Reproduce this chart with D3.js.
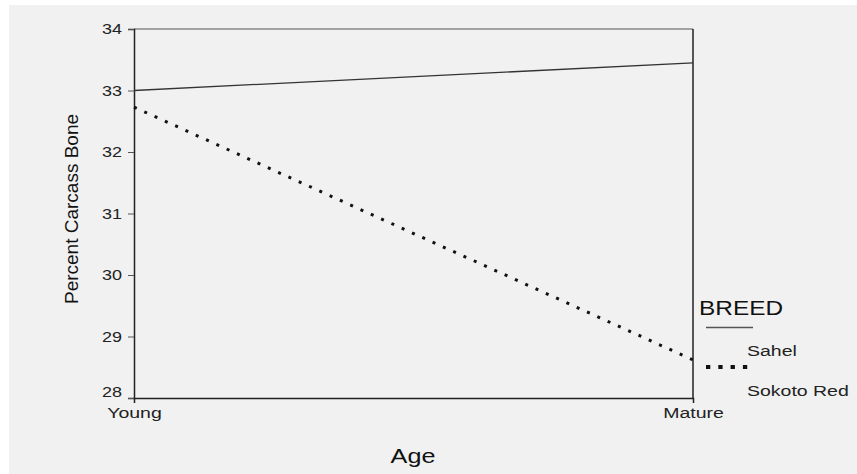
<!DOCTYPE html>
<html>
<head>
<meta charset="utf-8">
<script src="https://d3js.org/d3.v7.min.js"></script>
<style>
  body { margin: 0; background: #fff; }
  svg { display: block; font-family: Arial, "Liberation Sans", sans-serif; }
</style>
</head>
<body>
<svg id="chart" width="857" height="474"></svg>
<script>
// data
const ages = ["Young", "Mature"];
const breeds = ["Sahel", "Sokoto Red"];
const sahel = [33.0, 33.45];
const sokotoRed = [32.73, 28.62];
const yTicks = [28, 29, 30, 31, 32, 33, 34];

const svg = d3.select("#chart");

// grey panel
svg.append("rect").attr("x", 9).attr("y", 5).attr("width", 848).attr("height", 469).attr("fill", "#f1f1f1");

const plotL = 134, plotR = 693, plotT = 29, plotB = 398;

const x = d3.scalePoint().domain(ages).range([plotL, plotR]);
const y = d3.scaleLinear().domain([28, 34]).range([plotB, plotT]);

// the original text looks stretched sideways
function stretch(sel, k, x0) {
  sel.attr("transform", `scale(${k},1)`).attr("x", x0 / k);
}

// frame: top grey, right black
svg.append("line").attr("x1", plotL).attr("x2", plotR).attr("y1", plotT).attr("y2", plotT)
  .attr("stroke", "#888").attr("stroke-width", 1.5);
svg.append("line").attr("x1", plotR).attr("x2", plotR).attr("y1", plotT).attr("y2", plotB)
  .attr("stroke", "#222").attr("stroke-width", 1.5);

// y axis
const yAxis = svg.append("g").attr("transform", `translate(${plotL},0)`)
  .call(d3.axisLeft(y).tickValues(yTicks).tickSize(6).tickPadding(6).tickFormat(d3.format("d")));
yAxis.select(".domain").attr("stroke", "#222").attr("stroke-width", 1.5);
yAxis.selectAll(".tick line").attr("stroke", "#555");
yAxis.selectAll("text").attr("font-size", 15).attr("fill", "#222")
  .call(stretch, 1.2, -12);
yAxis.selectAll(".tick").filter(d => d === 28).select("text").attr("dy", "-0.1em");

// x axis
const xAxis = svg.append("g").attr("transform", `translate(0,${plotB})`)
  .call(d3.axisBottom(x).tickSize(5).tickPadding(4));
xAxis.select(".domain").attr("stroke", "#222").attr("stroke-width", 1.5);
xAxis.selectAll(".tick line").attr("stroke", "#222");
xAxis.selectAll("text").attr("font-size", 15).attr("fill", "#222")
  .call(stretch, 1.3, 0);

// axis titles
svg.append("g").attr("transform", "translate(413,463)")
  .append("text").attr("text-anchor", "middle")
  .attr("font-size", 21).attr("fill", "#111").text("Age")
  .call(stretch, 1.2, 0);
svg.append("text")
  .attr("transform", "translate(78,209) rotate(-90)")
  .attr("text-anchor", "middle").attr("font-size", 18).attr("fill", "#111")
  .attr("textLength", 190).attr("lengthAdjust", "spacingAndGlyphs")
  .text("Percent Carcass Bone");

// lines
const line = d3.line().x((d, i) => x(ages[i])).y(d => y(d));
svg.append("path").datum(sahel).attr("d", line)
  .attr("fill", "none").attr("stroke", "#333").attr("stroke-width", 1.3);
svg.append("path").datum(sokotoRed).attr("d", line)
  .attr("fill", "none").attr("stroke", "#111").attr("stroke-width", 3)
  .attr("stroke-dasharray", "3,8.3");

// legend
svg.append("g").attr("transform", "translate(699,315)")
  .append("text").attr("font-size", 20).attr("fill", "#111").text("BREED")
  .call(stretch, 1.22, 0);
const styles = [
  { width: 1.3, dash: null, color: "#555", x2: 753 },
  { width: 4, dash: "4.3,8", color: "#111", x2: 750 }
];
breeds.forEach((b, i) => {
  const ly = 327.5 + i * 39.5;
  svg.append("line").attr("x1", 706).attr("x2", styles[i].x2).attr("y1", ly).attr("y2", ly)
    .attr("stroke", styles[i].color).attr("stroke-width", styles[i].width)
    .attr("stroke-dasharray", styles[i].dash);
  svg.append("g").attr("transform", `translate(747,${ly + 28.5})`)
    .append("text").attr("font-size", 15).attr("fill", "#222").text(b)
    .call(stretch, 1.3, 0);
});
</script>
</body>
</html>
